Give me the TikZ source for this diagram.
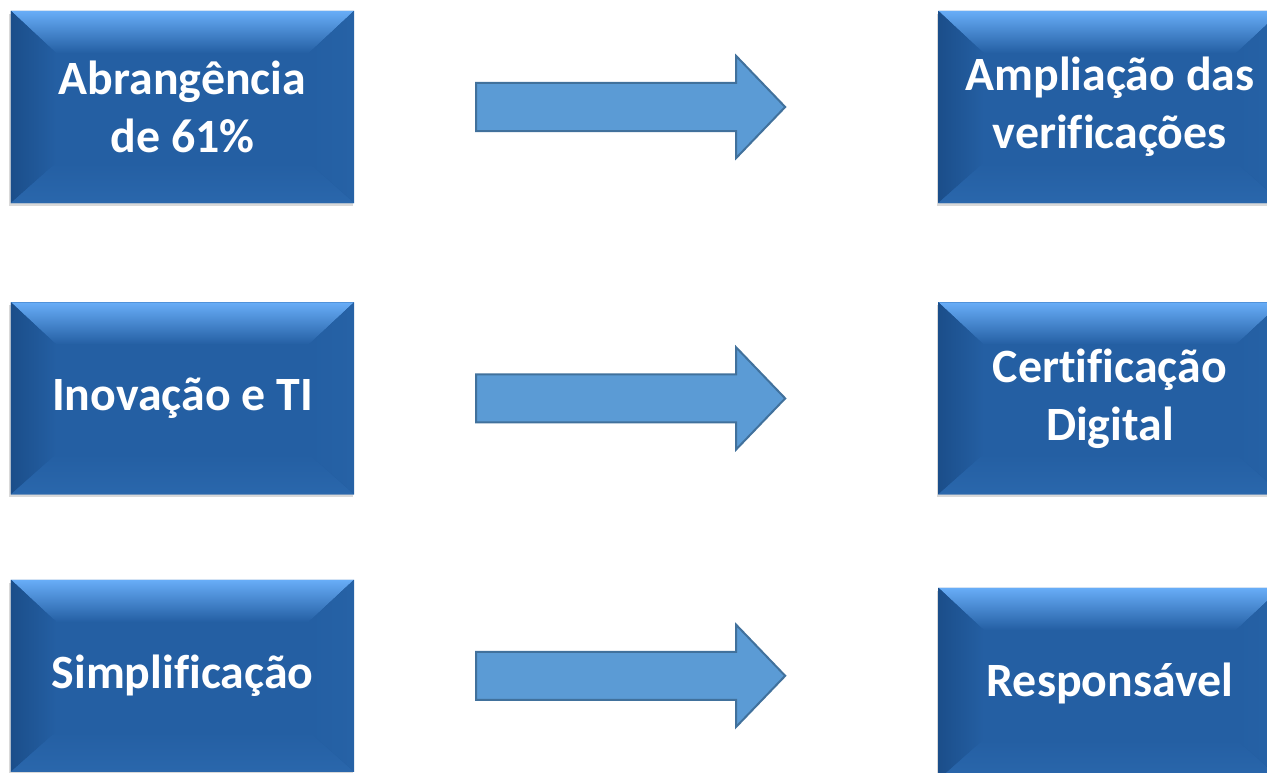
\documentclass[tikz,border=0pt]{standalone}
\usepackage{fontspec}
\setmainfont{Carlito}[Ligatures=NoCommon]
\usetikzlibrary{shapes,arrows,positioning,calc,shadows}

\definecolor{boxface}{HTML}{245FA3}
\definecolor{bevtop}{HTML}{68ADF7}
\definecolor{bevleft}{HTML}{1B4E8A}
\definecolor{bevright}{HTML}{2662A6}
\definecolor{bevbotout}{HTML}{2A67AC}
\definecolor{arrowfill}{HTML}{5B9BD5}
\definecolor{arrowline}{HTML}{41719C}

\begin{document}
\begin{tikzpicture}[x=1bp, y=-1bp]
\tikzstyle{block} = [rectangle, fill=boxface, text=white, font=\bfseries\fontsize{48}{58}\selectfont, align=center, minimum width=343bp, minimum height=192bp, inner sep=0pt,
  drop shadow={shadow xshift=-1.5bp, shadow yshift=-3bp, opacity=0.3},
  path picture={
    \path (path picture bounding box.north west) coordinate (bnw)
          (path picture bounding box.north east) coordinate (bne)
          (path picture bounding box.south west) coordinate (bsw)
          (path picture bounding box.south east) coordinate (bse);
    \fill[top color=bevtop, bottom color=boxface] (bnw) -- (bne) -- ($(bne)+(-45bp,-42bp)$) -- ($(bnw)+(45bp,-42bp)$) -- cycle;
    \fill[left color=bevleft, right color=boxface] (bnw) -- ($(bnw)+(45bp,-42bp)$) -- ($(bsw)+(45bp,40bp)$) -- (bsw) -- cycle;
    \fill[left color=boxface, right color=bevright] (bne) -- ($(bne)+(-45bp,-42bp)$) -- ($(bse)+(-45bp,40bp)$) -- (bse) -- cycle;
    \fill[top color=boxface, bottom color=bevbotout] (bsw) -- ($(bsw)+(45bp,40bp)$) -- ($(bse)+(-45bp,40bp)$) -- (bse) -- cycle;
  }]
\tikzstyle{blockarrow} = [draw=arrowline, fill=arrowfill, line width=2bp, line join=miter]

\useasboundingbox (0,0) rectangle (1267,773);

% Left blocks
\node [block] (abrangencia) at (182.5,107) {Abrangência\\de 61\%};
\node [block, below=99bp of abrangencia] (inovacao) {Inovação e TI};
\node [block, below=85bp of inovacao] (simplificacao) {Simplificação};

% Right blocks
\node [block, right=584bp of abrangencia] (ampliacao) {Ampliação das\\verificações};
\node [block, right=584bp of inovacao] (certificacao) {Certificação\\Digital};
\node [block, right=584bp of simplificacao, yshift=-8bp] (responsavel) {Responsável};

% Arrows
\coordinate (arr1) at ($(abrangencia.east)+(122bp,0)$);
\coordinate (arr2) at ($(inovacao.east)+(122bp,0)$);
\coordinate (arr3) at ($(simplificacao.east)+(122bp,0)$);

\draw [blockarrow] (arr1) ++(0,-24) -- ++(260,0) -- ++(0,-27) -- ++(49,51) -- ++(-49,51) -- ++(0,-27) -- ++(-260,0) -- cycle;
\draw [blockarrow] (arr2) ++(0,-24) -- ++(260,0) -- ++(0,-27) -- ++(49,51) -- ++(-49,51) -- ++(0,-27) -- ++(-260,0) -- cycle;
\draw [blockarrow] (arr3) ++(0,-24) -- ++(260,0) -- ++(0,-27) -- ++(49,51) -- ++(-49,51) -- ++(0,-27) -- ++(-260,0) -- cycle;

\end{tikzpicture}
\end{document}
